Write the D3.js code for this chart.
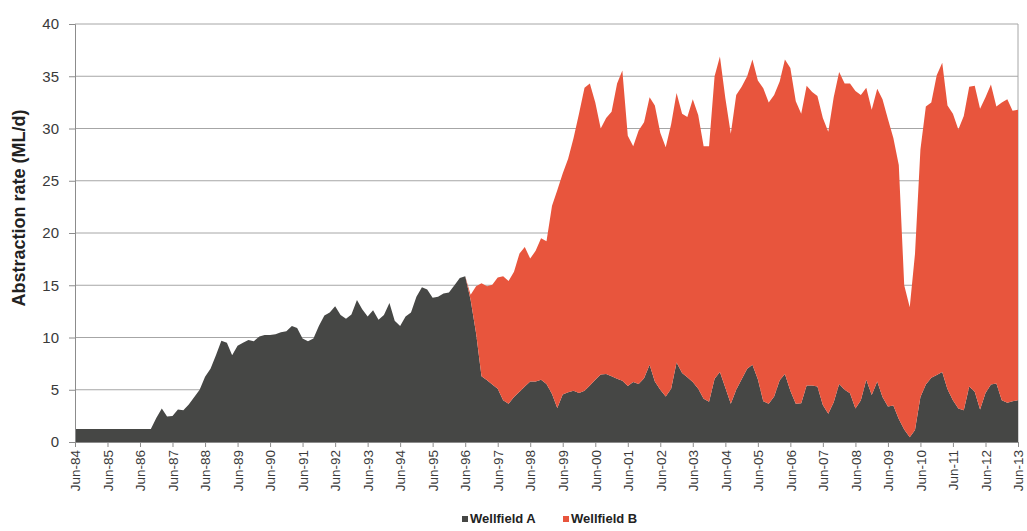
<!DOCTYPE html>
<html>
<head>
<meta charset="utf-8">
<script src="https://cdn.jsdelivr.net/npm/d3@7"></script>
<style>
  body { margin: 0; background: #fff; }
  text { font-family: "Liberation Sans", Arial, sans-serif; }
</style>
</head>
<body>
<svg id="chart" width="1027" height="531"></svg>
<script>
// bi-monthly readings, one row per year: Jun, Aug, Oct, Dec, Feb, Apr
var wellfieldA = [
  1.25, 1.25, 1.25, 1.25, 1.25, 1.25,   // 84/85
  1.25, 1.25, 1.25, 1.25, 1.25, 1.25,   // 85/86
  1.25, 1.25, 1.25, 2.3, 3.2, 2.45,     // 86/87
  2.5, 3.1, 3.05, 3.6, 4.3, 5.0,        // 87/88
  6.25, 7.0, 8.3, 9.7, 9.5, 8.3,        // 88/89
  9.2, 9.5, 9.75, 9.65, 10.1, 10.25,    // 89/90
  10.25, 10.3, 10.5, 10.6, 11.1, 10.9,  // 90/91
  9.9, 9.65, 9.9, 11.1, 12.1, 12.4,     // 91/92
  13.0, 12.15, 11.8, 12.2, 13.6, 12.7,  // 92/93
  12.0, 12.6, 11.7, 12.15, 13.3, 11.6,  // 93/94
  11.1, 12.0, 12.4, 13.9, 14.8, 14.6,   // 94/95
  13.8, 13.9, 14.2, 14.3, 15.0, 15.7,   // 95/96
  15.85, 13.6, 10.4, 6.3, 5.9, 5.5,     // 96/97
  5.1, 4.0, 3.65, 4.3, 4.8, 5.3,        // 97/98
  5.8, 5.8, 5.95, 5.55, 4.6, 3.25,      // 98/99
  4.55, 4.75, 4.9, 4.7, 4.9, 5.4,       // 99/00
  5.95, 6.45, 6.5, 6.3, 6.05, 5.85,     // 00/01
  5.35, 5.75, 5.55, 6.1, 7.4, 5.8,      // 01/02
  5.0, 4.35, 5.1, 7.6, 6.6, 6.2,        // 02/03
  5.75, 5.1, 4.15, 3.85, 6.05, 6.7,     // 03/04
  5.2, 3.65, 5.0, 6.0, 7.0, 7.4,        // 04/05
  6.0, 3.9, 3.65, 4.35, 5.9, 6.5,       // 05/06
  4.9, 3.65, 3.7, 5.4, 5.4, 5.3,        // 06/07
  3.55, 2.7, 3.8, 5.55, 5.0, 4.66,      // 07/08
  3.2, 4.0, 5.95, 4.5, 5.8, 4.3,        // 08/09
  3.4, 3.5, 2.2, 1.2, 0.45, 1.15,       // 09/10
  4.3, 5.5, 6.15, 6.4, 6.7, 5.05,       // 10/11
  4.0, 3.2, 3.05, 5.3, 4.8, 3.1,        // 11/12
  4.7, 5.5, 5.6, 4.0, 3.75, 3.9,        // 12/13
  4.0                                   // Jun-13
];

var wellfieldB = [
  0, 0, 0, 0, 0, 0,                         // 84/85
  0, 0, 0, 0, 0, 0,                         // 85/86
  0, 0, 0, 0, 0, 0,                         // 86/87
  0, 0, 0, 0, 0, 0,                         // 87/88
  0, 0, 0, 0, 0, 0,                         // 88/89
  0, 0, 0, 0, 0, 0,                         // 89/90
  0, 0, 0, 0, 0, 0,                         // 90/91
  0, 0, 0, 0, 0, 0,                         // 91/92
  0, 0, 0, 0, 0, 0,                         // 92/93
  0, 0, 0, 0, 0, 0,                         // 93/94
  0, 0, 0, 0, 0, 0,                         // 94/95
  0, 0, 0, 0, 0, 0,                         // 95/96
  0, 0.5, 4.5, 8.9, 9.0, 9.55,              // 96/97
  10.65, 11.85, 11.75, 12.0, 13.25, 13.35,  // 97/98
  11.75, 12.5, 13.55, 13.65, 18.0, 20.85,   // 98/99
  21.15, 22.35, 24.2, 26.7, 29.0, 28.9,     // 99/00
  26.55, 23.55, 24.5, 25.3, 28.25, 29.7,    // 00/01
  23.95, 22.55, 24.25, 24.5, 25.6, 26.4,    // 01/02
  24.6, 23.85, 25.3, 25.8, 24.8, 24.9,      // 02/03
  27.05, 26.2, 24.15, 24.45, 28.95, 30.2,   // 03/04
  27.7, 25.85, 28.2, 28.0, 28.0, 29.2,      // 04/05
  28.6, 29.95, 28.85, 28.85, 28.6, 30.1,    // 05/06
  30.9, 28.95, 27.7, 28.7, 28.1, 27.8,      // 06/07
  27.45, 27.0, 29.2, 29.85, 29.3, 29.65,    // 07/08
  30.4, 29.2, 27.95, 27.3, 28.0, 28.5,      // 08/09
  27.5, 25.6, 24.3, 13.8, 12.45, 16.85,     // 09/10
  23.7, 26.6, 26.35, 28.7, 29.6, 27.15,     // 10/11
  27.4, 26.7, 28.15, 28.7, 29.3, 28.8,      // 11/12
  28.3, 28.7, 26.5, 28.5, 29.05, 27.8,      // 12/13
  27.8                                      // Jun-13
];

var yTicks = [0, 5, 10, 15, 20, 25, 30, 35, 40];
var seriesNames = ["Wellfield A", "Wellfield B"];
var seriesColors = ["#464745", "#e8553d"];

// one reading every second month, starting Jun 1984
var dates = wellfieldA.map(function (d, i) { return new Date(1984, 5 + 2 * i, 1); });
var tickDates = d3.range(1984, 2014).map(function (yr) { return new Date(yr, 5, 1); });

var rows = dates.map(function (d, i) {
  return { date: d, A: wellfieldA[i], B: wellfieldB[i] };
});

var margin = { top: 24, right: 9, bottom: 89, left: 75 },
  width = 1027 - margin.left - margin.right,
  height = 531 - margin.top - margin.bottom;

var svg = d3.select("#chart")
  .append("g")
  .attr("transform", "translate(" + margin.left + "," + margin.top + ")");

var x = d3.scaleTime()
  .domain([tickDates[0], tickDates[tickDates.length - 1]])
  .range([0, width]);

var y = d3.scaleLinear().domain([0, 40]).range([height, 0]);

// gridlines
svg.append("g")
  .selectAll("line")
  .data(yTicks)
  .enter()
  .append("line")
  .attr("x1", 0)
  .attr("x2", width)
  .attr("y1", function (d) { return y(d); })
  .attr("y2", function (d) { return y(d); })
  .attr("stroke", "#a6a6a6")
  .attr("stroke-width", 1);

// right frame line
svg.append("line")
  .attr("x1", width).attr("x2", width)
  .attr("y1", 0).attr("y2", height)
  .attr("stroke", "#a6a6a6");

var stack = d3.stack().keys(["A", "B"]);
var layers = stack(rows);

var area = d3.area()
  .x(function (d) { return x(d.data.date); })
  .y0(function (d) { return y(d[0]); })
  .y1(function (d) { return y(d[1]); });

svg.selectAll(".layer")
  .data(layers)
  .enter()
  .append("path")
  .attr("class", "layer")
  .attr("d", area)
  .attr("fill", function (d, i) { return seriesColors[i]; });

// y axis
var yAxis = svg.append("g")
  .call(d3.axisLeft(y).tickValues(yTicks).tickSize(6).tickPadding(10));
yAxis.select(".domain").attr("stroke", "#8c8c8c");
yAxis.selectAll(".tick line").attr("stroke", "#8c8c8c");
yAxis.selectAll(".tick text")
  .attr("font-size", "15px")
  .attr("fill", "#3a3a3a");

// x axis
var xAxis = svg.append("g")
  .attr("transform", "translate(0," + height + ")")
  .call(d3.axisBottom(x).tickValues(tickDates).tickSize(5).tickFormat(d3.timeFormat("%b-%y")));
xAxis.select(".domain").attr("stroke", "#8c8c8c");
xAxis.selectAll(".tick line").attr("stroke", "#8c8c8c");
xAxis.selectAll(".tick text")
  .attr("font-size", "13.5px")
  .attr("fill", "#3a3a3a")
  .attr("text-anchor", "end")
  .attr("transform", "rotate(-90)")
  .attr("x", -8)
  .attr("y", 0)
  .attr("dy", "0.35em");

// y title
svg.append("text")
  .attr("transform", "rotate(-90)")
  .attr("x", -184)
  .attr("y", -50)
  .attr("text-anchor", "middle")
  .attr("font-size", "18px")
  .attr("font-weight", "bold")
  .attr("fill", "#222")
  .text("Abstraction rate (ML/d)");

// legend
var legend = d3.select("#chart").append("g")
  .attr("transform", "translate(462,523)");
var legendX = [0, 101];
seriesNames.forEach(function (name, i) {
  var g = legend.append("g").attr("transform", "translate(" + legendX[i] + ",0)");
  g.append("rect")
    .attr("x", 0).attr("y", -7)
    .attr("width", 6).attr("height", 6)
    .attr("fill", seriesColors[i]);
  g.append("text")
    .attr("x", 8)
    .attr("y", 0)
    .attr("font-size", "13px")
    .attr("font-weight", "bold")
    .attr("fill", "#222")
    .text(name);
});
</script>
</body>
</html>
